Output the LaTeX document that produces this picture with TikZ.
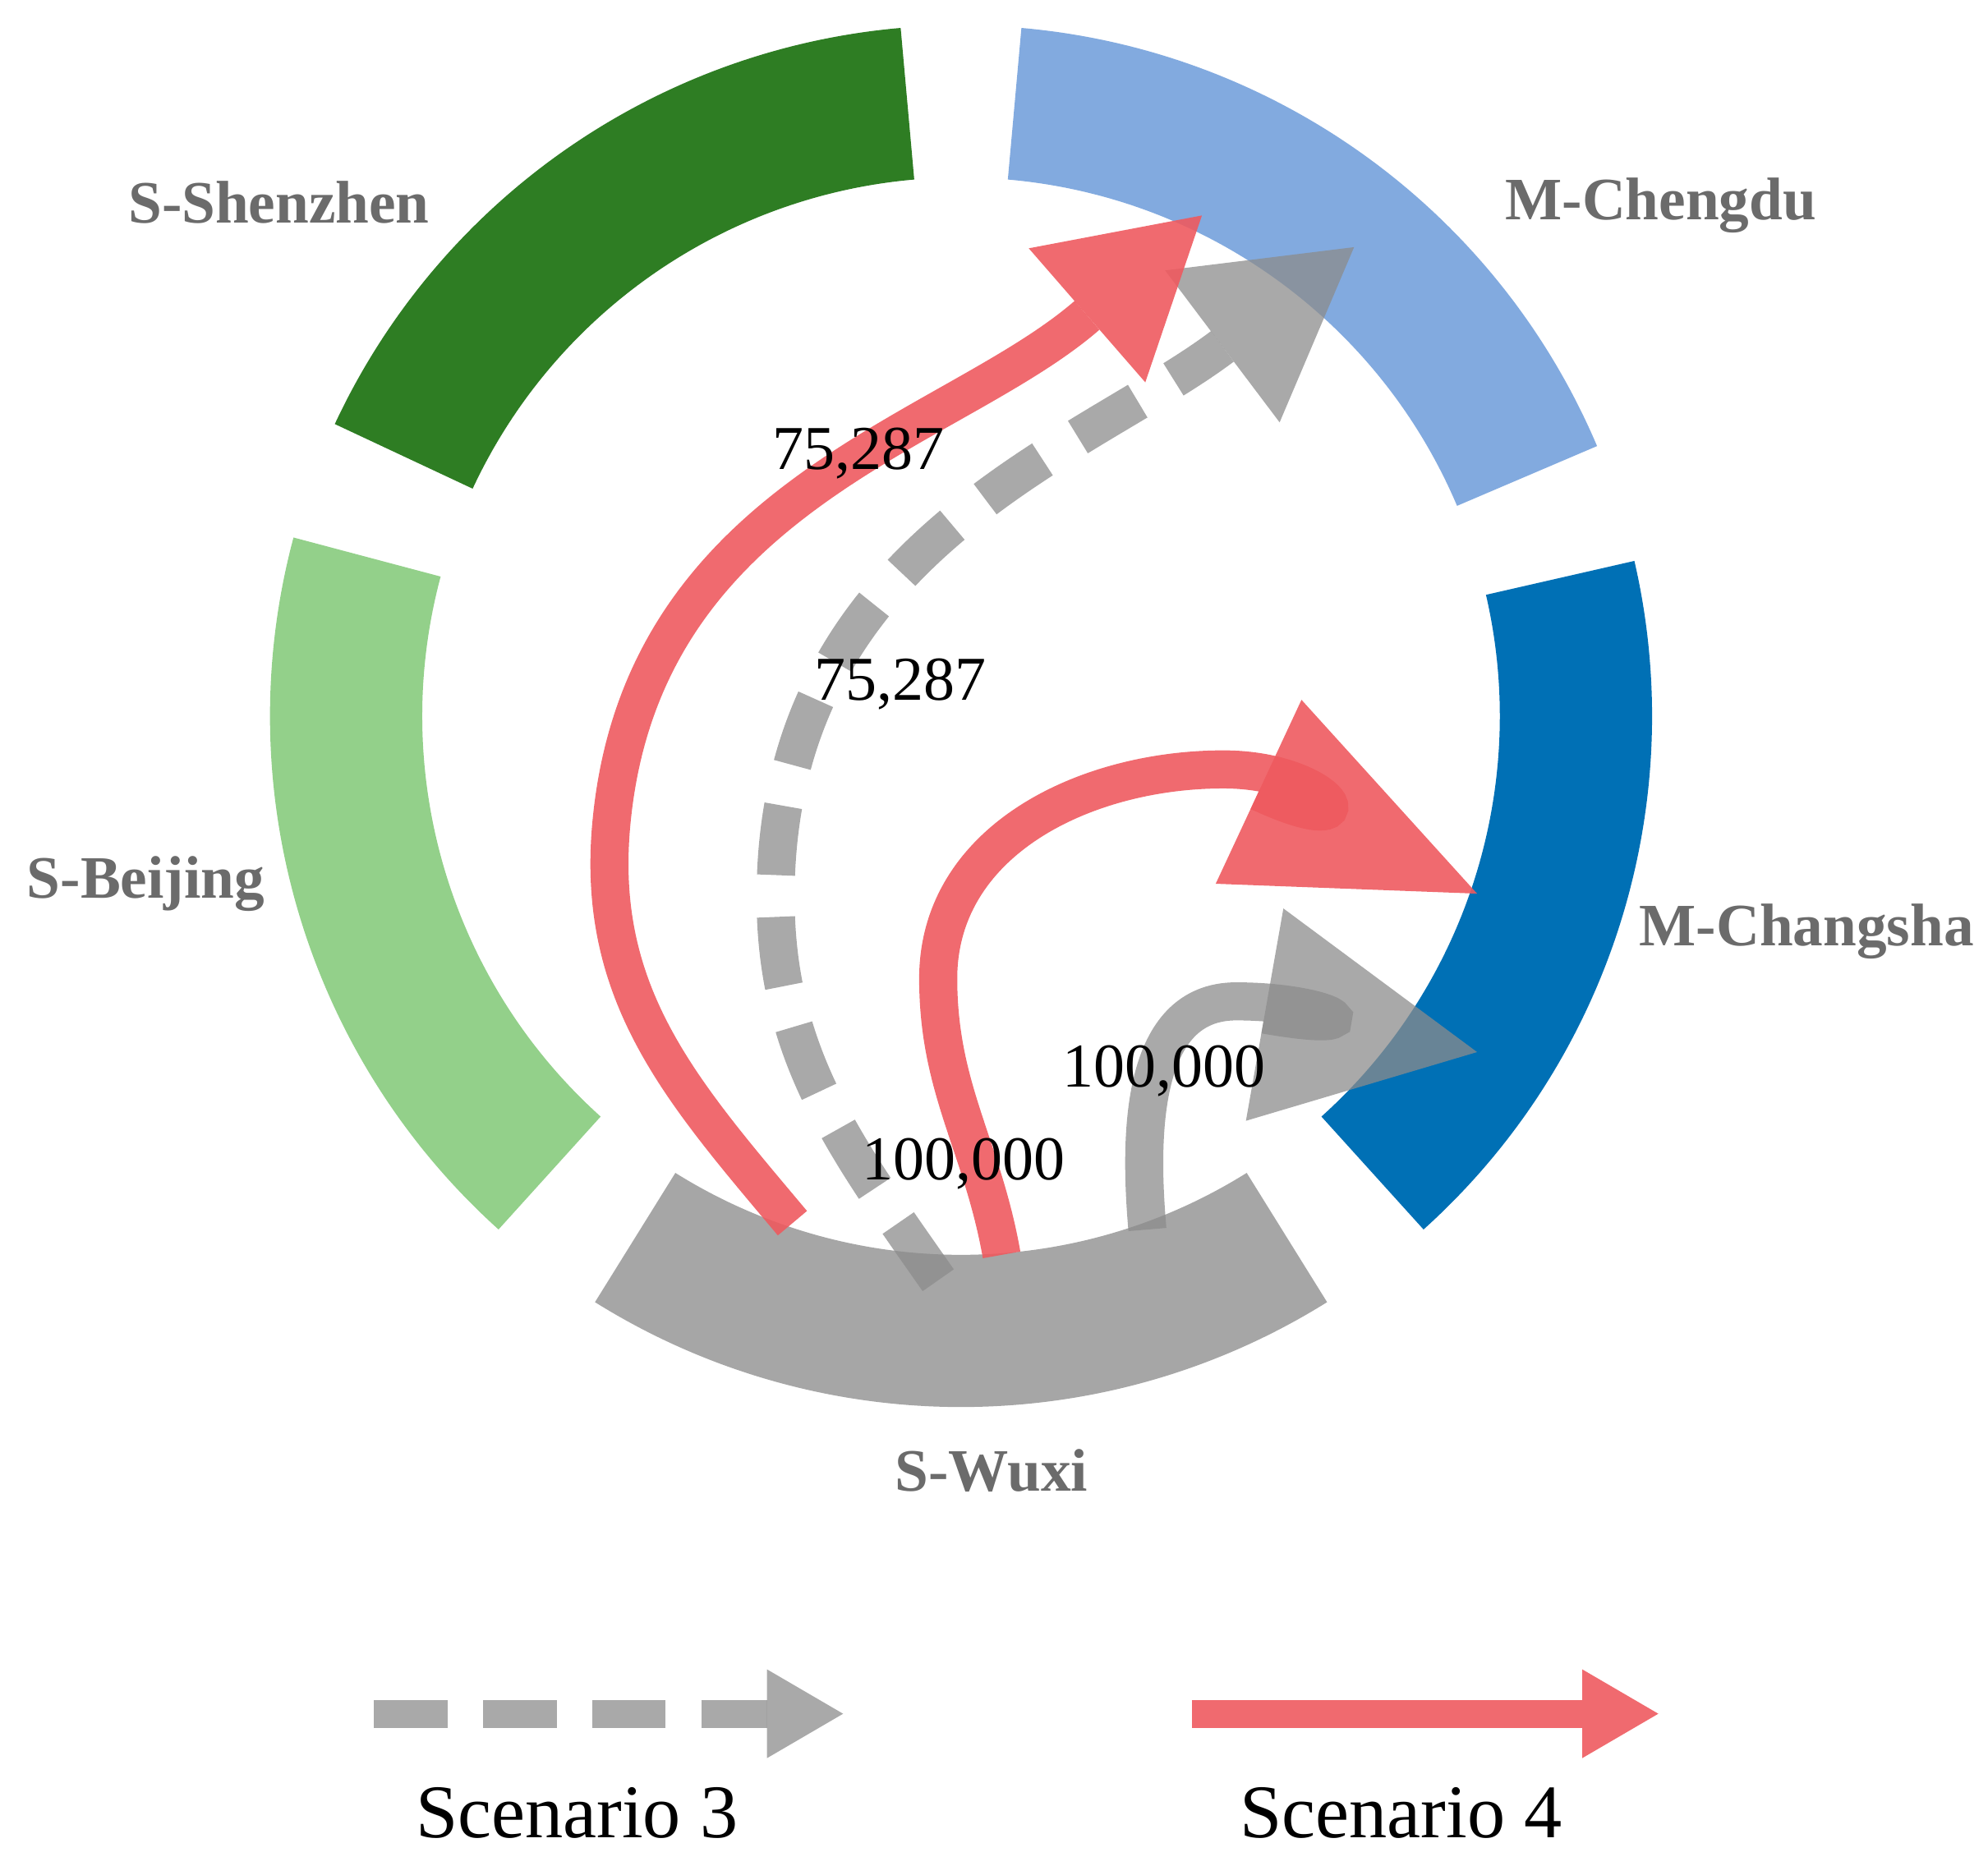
\documentclass[tikz,border=0pt]{standalone}
\usepackage{fontspec}
\setmainfont{Liberation Serif}
\usetikzlibrary{arrows.meta}
\definecolor{RingShenzhen}{HTML}{2E7D23}
\definecolor{RingChengdu}{HTML}{82AADF}
\definecolor{RingBeijing}{HTML}{93D08A}
\definecolor{RingChangsha}{HTML}{0070B5}
\definecolor{RingWuxi}{HTML}{A6A6A6}
\definecolor{FlowRed}{HTML}{EE5A5F}
\definecolor{FlowGray}{HTML}{8C8C8C}
\definecolor{CityText}{HTML}{6B6B6B}
\tikzset{
  ring/.style={line width=1.2cm},
  city/.style={font=\fontsize{13.5}{15}\selectfont\bfseries, text=CityText},
  flowval/.style={font=\fontsize{14}{16}\selectfont},
  redflow/.style={draw=FlowRed, line width=0.3cm, opacity=0.9},
  grayflow/.style={draw=FlowGray, line width=0.3cm, opacity=0.75, dash pattern=on 0.55cm off 0.33cm}
}
\begin{document}
\begin{tikzpicture}[x=0.01cm,y=0.01cm]
    \useasboundingbox (0,0) rectangle (1568,1472);
    \coordinate (c) at (758,907);
    % rings
    \foreach \a/\b/\col in {95/155/RingShenzhen,23/85/RingChengdu,165/228/RingBeijing,-48/13/RingChangsha,238/302/RingWuxi} {
     \draw[ring,\col] ([shift={(\a:485)}]c) arc[start angle=\a,end angle=\b,radius=485];
    }
    \node[city] (shenzhen) at (220,1312) {S-Shenzhen};
    \node[city] (chengdu) at (1310,1310) {M-Chengdu};
    \node[city] (beijing) at (115,775) {S-Beijing};
    \node[city] (changsha) at (1425,737) {M-Changsha};
    \node[city] (wuxi) at (782,312) {S-Wuxi};

    % flows
    \coordinate (r1s) at (625,507); \coordinate (r1e) at (948,1302);
    \coordinate (g1s) at (740,462); \coordinate (g1e) at (1068,1277);
    \coordinate (r2s) at (790,482); \coordinate (r2e) at (1165,767);
    \coordinate (g2s) at (905,502); \coordinate (g2e) at (1165,642);
    \draw[grayflow,-{Triangle[width=1.5cm,length=1.3cm,line width=0pt]}] (g1s) to[out=125,in=-92] (612,780) to[out=88,in=217] (g1e);
    \draw[redflow,-{Triangle[width=1.4cm,length=1.2cm,line width=0pt]}] (r1s) to[out=130,in=-95] (482,820) to[out=85,in=221] (r1e);
    \draw[grayflow,solid,-{Triangle[width=1.7cm,length=1.7cm,line width=0pt]}] (g2s) to[out=95,in=180] (975,682) to[out=0,in=170] (g2e);
    \draw[redflow,-{Triangle[width=1.6cm,length=1.9cm,line width=0pt]}] (r2s) to[out=100,in=-90] (740,700) to[out=90,in=180] (965,865) to[out=0,in=155] (r2e);

    \node[flowval] (v1) at (677,1114) {75,287};
    \node[flowval] (v2) at (710,932) {75,287};
    \node[flowval] (v3) at (918,627) {100,000};
    \node[flowval] (v4) at (760,554) {100,000};

    % legend
    \coordinate (l3s) at (295,120); \coordinate (l3e) at (665,120);
    \coordinate (l4s) at (940,120); \coordinate (l4e) at (1308,120);
    \draw[grayflow,line width=0.22cm,dash pattern=on 0.58cm off 0.28cm,-{Triangle[width=0.7cm,length=0.6cm,line width=0pt]}] (l3s) -- (l3e);
    \draw[redflow,line width=0.22cm,-{Triangle[width=0.7cm,length=0.6cm,line width=0pt]}] (l4s) -- (l4e);
    \node[font=\fontsize{17}{19}\selectfont] (sc3) at (455,42) {Scenario 3};
    \node[font=\fontsize{17}{19}\selectfont] (sc4) at (1105,42) {Scenario 4};
\end{tikzpicture}
\end{document}
